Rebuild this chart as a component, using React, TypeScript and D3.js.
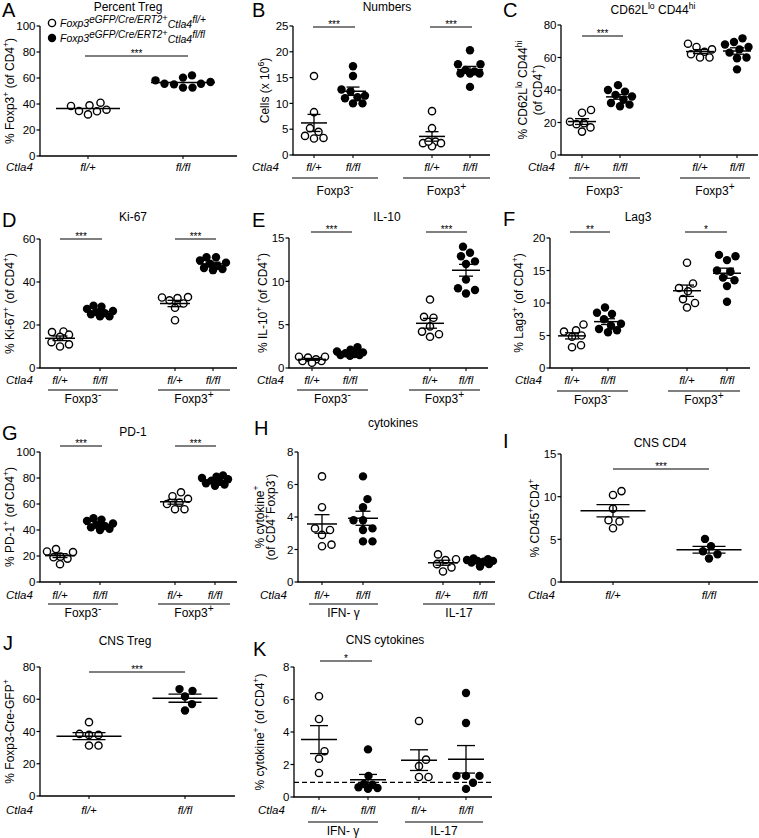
import React from 'react';
import * as d3 from 'd3';

const FONT = '"Liberation Sans", Arial, Helvetica, sans-serif';

// ---- Data ----
const A_flp = [38.5, 34.4, 32, 41, 34.6, 35.6, 39];
const A_flfl = [56.9, 52.6, 60.3, 55.1, 52.6, 62, 55.6, 55.6, 58.2];

const B_neg_flp = [15.3, 8.3, 5.2, 4.5, 3.7, 3.2, 3.3];
const B_neg_flfl = [17.2, 15.3, 12.7, 12.3, 11.5, 11.2, 10, 10, 11];
const B_pos_flp = [8.5, 5.2, 2.6, 2.3, 1.7, 2.3, 2.6];
const B_pos_flfl = [20.3, 17.6, 17.6, 16.5, 15.8, 15.8, 15.8, 16.2, 13.2];

const C_neg_flp = [26, 27.7, 19, 20.5, 19.5, 17, 14.4];
const C_neg_flfl = [43, 40, 39, 37, 36, 34, 32, 31, 30];
const C_pos_flp = [68.5, 66.5, 65, 63.5, 62, 60, 60];
const C_pos_flfl = [71.8, 69.5, 68, 66.5, 65, 63, 60, 59.5, 52.7];

const D_neg_flp = [17, 16.7, 15.5, 14.5, 12, 10, 11];
const D_neg_flfl = [29, 28.5, 27.5, 26.5, 26, 25.5, 25, 24, 24];
const D_pos_flp = [33, 32.8, 32.5, 31.5, 30, 28, 22.2];
const D_pos_flfl = [51.5, 51.5, 50, 49, 48.5, 47.5, 46.5, 46, 45.5];

const E_neg_flp = [0.8, 1.2, 1.3, 1.0, 0.8, 0.6, 1.3];
const E_neg_flfl = [2.4, 2.1, 1.9, 1.8, 1.7, 1.6, 1.5, 1.5, 1.4];
const E_pos_flp = [7.9, 5.9, 5.8, 4.8, 4.2, 3.6, 3.9];
const E_pos_flfl = [14, 13.3, 12.9, 12.3, 12, 10.2, 9.2, 9, 8.6];

const F_neg_flp = [6.7, 5.8, 5.6, 5.0, 4.8, 3.2, 3.5];
const F_neg_flfl = [9.3, 8.5, 8.3, 7.5, 6.8, 6.5, 6.0, 5.5, 5.8];
const F_pos_flp = [16.2, 13, 12.3, 11.8, 10.6, 10.0, 9.3];
const F_pos_flfl = [17.2, 17.4, 16.6, 15.0, 14.8, 13.9, 13.5, 12.6, 10.2];

const G_neg_flp = [25.3, 23.5, 23, 19.5, 19, 18, 13.7];
const G_neg_flfl = [49, 48, 47, 45, 44, 43, 42, 41, 40];
const G_pos_flp = [69, 66, 64, 61, 60, 56, 56];
const G_pos_flfl = [82, 81, 80, 79, 78, 77, 76, 75, 74];

const H_ifn_flp = [6.5, 4.6, 3.3, 3.2, 2.9, 2.2, 2.3];
const H_ifn_flfl = [6.5, 5.1, 4.6, 3.8, 3.8, 3.3, 3.2, 2.5, 2.5];
const H_il17_flp = [1.7, 1.4, 1.35, 1.1, 0.9, 0.65];
const H_il17_flfl = [1.45, 1.4, 1.35, 1.3, 1.3, 1.25, 1.2, 1.1, 0.95];

const I_flp = [10.2, 10.65, 8.6, 7.25, 7.1, 6.3];
const I_flfl = [5.05, 4.2, 3.6, 3.25, 2.75];

const J_flp = [45.8, 37.9, 37.9, 38.5, 31.3, 31.3];
const J_flfl = [65.2, 66.3, 61.7, 57, 53];

const K_ifn_flp = [6.2, 4.8, 2.82, 2.36, 1.48];
const K_ifn_flfl = [2.93, 1.3, 0.8, 0.75, 0.55, 0.5, 0.6];
const K_il17_flp = [4.68, 2.3, 1.9, 1.23, 1.23];
const K_il17_flfl = [6.4, 4.55, 1.3, 1.3, 1.3, 0.88, 0.5];
const K_threshold = 0.9;

const genotypes = ['fl/+', 'fl/fl'];
const groupFoxp3 = ['Foxp3^{-}', 'Foxp3^{+}'];
const groupCyto = ['IFN- γ', 'IL-17'];

// ---- helpers ----
function rich(s: string, fs: number, supScale = 0.72, raise = 0.4) {
  const parts = s.split(/(\^\{[^}]*\})/).filter((x) => x.length > 0);
  let cur = 0;
  return parts.map((pt, i) => {
    const isSup = pt.startsWith('^{');
    const txt = isSup ? pt.slice(2, -1) : pt;
    const target = isSup ? -fs * raise : 0;
    const dy = target - cur;
    cur = target;
    return (
      <tspan key={i} dy={dy} fontSize={isSup ? fs * supScale : fs}>
        {txt}
      </tspan>
    );
  });
}

function swarm(ys: number[], cx: number, minD: number, maxOff: number) {
  const idx = ys.map((y, i) => i).sort((a, b) => ys[b] - ys[a]);
  const placed: { x: number; y: number }[] = [];
  const out: number[] = new Array(ys.length).fill(cx);
  const cands: number[] = [0];
  for (let o = 0.5; o <= maxOff + 1e-9; o += 0.5) cands.push(o, -o);
  idx.forEach((i) => {
    const y = ys[i];
    let best = 0, bestD = -1;
    for (const c of cands) {
      let md = Infinity;
      for (const p of placed) {
        const d = Math.hypot(p.x - c, p.y - y);
        if (d < md) md = d;
      }
      if (md >= minD) { best = c; bestD = md; break; }
      if (md > bestD + 0.01) { bestD = md; best = c; }
    }
    placed.push({ x: best, y });
    out[i] = cx + best;
  });
  return out;
}

type Cat = { x: number; v: number[]; f: boolean; l: string };
type Grp = { x1: number; x2: number; l: string };
type Sig = { x1: number; x2: number; y: number; t: string };
type P = {
  letter: string; lx: number; ly: number;
  title: string; tx: number; ty: number;
  axisX: number; xEnd: number; y0: number; yTop: number; yMax: number; step: number;
  ylab: string[]; ylabX: number[];
  ctlaX: number; catY: number;
  cats: Cat[]; groups: Grp[]; gY?: number; gLY?: number;
  sig: Sig[]; meanW: number; semW: number; maxOff: number; sem: boolean;
  dashed?: number;
};

const mk4 = (xs: number[], vals: number[][]): Cat[] =>
  xs.map((x, i) => ({ x, v: vals[i], f: i % 2 === 1, l: genotypes[i % 2] }));
const mkG = (r: number[][], labels: string[]): Grp[] =>
  r.map((a, i) => ({ x1: a[0], x2: a[1], l: labels[i] }));

const panels: P[] = [
  {
    letter: 'A', lx: 2, ly: 17, title: 'Percent Treg', tx: 128, ty: 11,
    axisX: 40, xEnd: 237, y0: 156, yTop: 26, yMax: 100, step: 20,
    ylab: ['% Foxp3^{+} (of CD4^{+})'], ylabX: [10], ctlaX: 6, catY: 171,
    cats: mk4([88, 183], [A_flp, A_flfl]), groups: [],
    sig: [{ x1: 85, x2: 188, y: 56, t: '***' }], meanW: 64, semW: 0, maxOff: 32, sem: false,
  },
  {
    letter: 'B', lx: 252, ly: 17, title: 'Numbers', tx: 387, ty: 11,
    axisX: 293, xEnd: 490, y0: 155, yTop: 26, yMax: 25, step: 5,
    ylab: ['Cells (x 10^{6})'], ylabX: [265], ctlaX: 252, catY: 171,
    cats: mk4([314, 353, 432, 470], [B_neg_flp, B_neg_flfl, B_pos_flp, B_pos_flfl]),
    groups: mkG([[292, 378], [403, 490]], groupFoxp3), gY: 178, gLY: 195,
    sig: [{ x1: 313, x2: 355, y: 27, t: '***' }, { x1: 430, x2: 472, y: 27, t: '***' }],
    meanW: 26, semW: 13, maxOff: 12, sem: true,
  },
  {
    letter: 'C', lx: 503, ly: 17, title: 'CD62L^{lo} CD44^{hi}', tx: 653, ty: 14,
    axisX: 561, xEnd: 758, y0: 155, yTop: 25, yMax: 80, step: 20,
    ylab: ['% CD62L^{lo} CD44^{hi}', '(of CD4^{+})'], ylabX: [523, 538], ctlaX: 528, catY: 171,
    cats: mk4([582, 620, 700, 737], [C_neg_flp, C_neg_flfl, C_pos_flp, C_pos_flfl]),
    groups: mkG([[569, 640], [680, 750]], groupFoxp3), gY: 178, gLY: 195,
    sig: [{ x1: 582, x2: 623, y: 36, t: '***' }], meanW: 28, semW: 14, maxOff: 12, sem: true,
  },
  {
    letter: 'D', lx: 2, ly: 227, title: 'Ki-67', tx: 133, ty: 221,
    axisX: 40, xEnd: 237, y0: 368, yTop: 239, yMax: 60, step: 20,
    ylab: ['% Ki-67^{+} (of CD4^{+})'], ylabX: [10], ctlaX: 6, catY: 384,
    cats: mk4([60, 100, 175, 213], [D_neg_flp, D_neg_flfl, D_pos_flp, D_pos_flfl]),
    groups: mkG([[48, 118], [158, 230]], groupFoxp3), gY: 390, gLY: 403,
    sig: [{ x1: 60, x2: 102, y: 239, t: '***' }, { x1: 175, x2: 216, y: 239, t: '***' }],
    meanW: 30, semW: 15, maxOff: 13, sem: true,
  },
  {
    letter: 'E', lx: 252, ly: 227, title: 'IL-10', tx: 387, ty: 221,
    axisX: 289, xEnd: 488, y0: 368, yTop: 238, yMax: 15, step: 5,
    ylab: ['% IL-10^{+} (of CD4^{+})'], ylabX: [263], ctlaX: 257, catY: 384,
    cats: mk4([312, 350, 430, 466], [E_neg_flp, E_neg_flfl, E_pos_flp, E_pos_flfl]),
    groups: mkG([[297, 368], [409, 480]], groupFoxp3), gY: 390, gLY: 403,
    sig: [{ x1: 311, x2: 352, y: 232, t: '***' }, { x1: 426, x2: 467, y: 232, t: '***' }],
    meanW: 28, semW: 14, maxOff: 13, sem: true,
  },
  {
    letter: 'F', lx: 503, ly: 226, title: 'Lag3', tx: 638, ty: 221,
    axisX: 550, xEnd: 750, y0: 368, yTop: 238, yMax: 20, step: 5,
    ylab: ['% Lag3^{+} (of CD4^{+})'], ylabX: [519], ctlaX: 515, catY: 384,
    cats: mk4([572, 608, 687, 727], [F_neg_flp, F_neg_flfl, F_pos_flp, F_pos_flfl]),
    groups: mkG([[557, 628], [668, 740]], groupFoxp3), gY: 391, gLY: 404,
    sig: [{ x1: 570, x2: 610, y: 232, t: '**' }, { x1: 685, x2: 727, y: 232, t: '*' }],
    meanW: 28, semW: 14, maxOff: 13, sem: true,
  },
  {
    letter: 'G', lx: 2, ly: 440, title: 'PD-1', tx: 133, ty: 436,
    axisX: 40, xEnd: 237, y0: 582, yTop: 452, yMax: 100, step: 20,
    ylab: ['% PD-1^{+} (of CD4^{+})'], ylabX: [10], ctlaX: 6, catY: 599,
    cats: mk4([60, 100, 175, 215], [G_neg_flp, G_neg_flfl, G_pos_flp, G_pos_flfl]),
    groups: mkG([[48, 118], [158, 230]], groupFoxp3), gY: 604, gLY: 617,
    sig: [{ x1: 60, x2: 102, y: 446, t: '***' }, { x1: 175, x2: 216, y: 446, t: '***' }],
    meanW: 30, semW: 15, maxOff: 13, sem: true,
  },
  {
    letter: 'H', lx: 254, ly: 435, title: 'cytokines', tx: 393, ty: 427,
    axisX: 298, xEnd: 495, y0: 582, yTop: 452, yMax: 8, step: 2,
    ylab: ['% cytokine^{+}', '(of CD4^{+}Foxp3^{-})'], ylabX: [260, 271], ctlaX: 260, catY: 599,
    cats: mk4([322, 363, 443, 480], [H_ifn_flp, H_ifn_flfl, H_il17_flp, H_il17_flfl]),
    groups: mkG([[309, 378], [423, 495]], groupCyto), gY: 604, gLY: 617,
    sig: [], meanW: 30, semW: 15, maxOff: 13, sem: true,
  },
  {
    letter: 'I', lx: 503, ly: 448, title: 'CNS CD4', tx: 660, ty: 447,
    axisX: 561, xEnd: 758, y0: 582, yTop: 454, yMax: 15, step: 5,
    ylab: ['% CD45^{+}CD4^{+}'], ylabX: [535], ctlaX: 528, catY: 599,
    cats: mk4([613, 709], [I_flp, I_flfl]), groups: [],
    sig: [{ x1: 613, x2: 709, y: 469, t: '***' }], meanW: 65, semW: 33, maxOff: 12, sem: true,
  },
  {
    letter: 'J', lx: 3, ly: 650, title: 'CNS Treg', tx: 125, ty: 645,
    axisX: 40, xEnd: 235, y0: 796, yTop: 667, yMax: 80, step: 20,
    ylab: ['% Foxp3-Cre-GFP^{+}'], ylabX: [10], ctlaX: 6, catY: 814,
    cats: mk4([89, 185], [J_flp, J_flfl]), groups: [],
    sig: [{ x1: 89, x2: 185, y: 672, t: '***' }], meanW: 65, semW: 33, maxOff: 12, sem: true,
  },
  {
    letter: 'K', lx: 253, ly: 656, title: 'CNS cytokines', tx: 385, ty: 644,
    axisX: 294, xEnd: 492, y0: 797, yTop: 667, yMax: 8, step: 2,
    ylab: ['% cytokine^{+} (of CD4^{+})'], ylabX: [260], ctlaX: 258, catY: 814,
    cats: mk4([319, 368, 419, 466], [K_ifn_flp, K_ifn_flfl, K_il17_flp, K_il17_flfl]),
    groups: mkG([[308, 378], [405, 483]], groupCyto), gY: 822, gLY: 835,
    sig: [{ x1: 320, x2: 372, y: 661, t: '*' }], meanW: 36, semW: 18, maxOff: 14, sem: true,
    dashed: K_threshold,
  },
];

const R = 4.2;

function Panel({ p }: { p: P }) {
  const y = d3.scaleLinear().domain([0, p.yMax]).range([p.y0, p.yTop]);
  const ticks = d3.range(0, p.yMax + 1e-9, p.step);
  const fmt = d3.format('d');
  const ymid = (p.y0 + p.yTop) / 2;
  return (
    <g>
      <text x={p.lx} y={p.ly} fontSize={20}>{p.letter}</text>
      <text x={p.tx} y={p.ty} fontSize={12} textAnchor="middle">{rich(p.title, 12)}</text>
      {/* y axis */}
      <line x1={p.axisX} x2={p.axisX} y1={p.y0} y2={p.yTop} stroke="#000" strokeWidth={1.3} />
      {ticks.map((t) => (
        <g key={t}>
          <line x1={p.axisX - 3.5} x2={p.axisX} y1={y(t)} y2={y(t)} stroke="#000" strokeWidth={1.2} />
          <text x={p.axisX - 4.5} y={y(t) + 4.2} fontSize={11.5} textAnchor="end">{fmt(t)}</text>
        </g>
      ))}
      {/* x axis */}
      <line x1={p.axisX - 0.6} x2={p.xEnd} y1={p.y0} y2={p.y0} stroke="#000" strokeWidth={1.3} />
      {p.cats.map((c, i) => (
        <line key={i} x1={c.x} x2={c.x} y1={p.y0} y2={p.y0 + 3} stroke="#000" strokeWidth={1.1} />
      ))}
      {/* y label */}
      {p.ylab.map((s, i) => (
        <text key={i} transform={`translate(${p.ylabX[i] + 4},${ymid}) rotate(-90)`} fontSize={12}
          textAnchor="middle" style={{ whiteSpace: 'pre' }}>
          {rich(s, 12)}
        </text>
      ))}
      {/* category labels */}
      <text x={p.ctlaX} y={p.catY} fontSize={11.5} fontStyle="italic">Ctla4</text>
      {p.cats.map((c, i) => (
        <text key={i} x={c.x} y={p.catY} fontSize={11.5} fontStyle="italic" textAnchor="middle">{c.l}</text>
      ))}
      {p.groups.map((g, i) => (
        <g key={i}>
          <line x1={g.x1} x2={g.x2} y1={p.gY} y2={p.gY} stroke="#000" strokeWidth={1.2} />
          <text x={(g.x1 + g.x2) / 2} y={p.gLY} fontSize={12} textAnchor="middle" style={{ whiteSpace: 'pre' }}>
            {rich(g.l, 12, 0.85, 0.45)}
          </text>
        </g>
      ))}
      {/* dashed threshold */}
      {p.dashed !== undefined && (
        <line x1={p.axisX} x2={p.xEnd} y1={y(p.dashed)} y2={y(p.dashed)} stroke="#000"
          strokeWidth={1.4} strokeDasharray="5,3" />
      )}
      {/* significance */}
      {p.sig.map((s, i) => (
        <g key={i}>
          <line x1={s.x1} x2={s.x2} y1={s.y} y2={s.y} stroke="#000" strokeWidth={1.2} />
          <text x={(s.x1 + s.x2) / 2} y={s.y + 1} fontSize={10} textAnchor="middle">{s.t}</text>
        </g>
      ))}
      {/* points */}
      {p.cats.map((c, i) => {
        const ys = c.v.map((v) => y(v));
        const xs = swarm(ys, c.x, 2 * R + 0.8, p.maxOff);
        const m = d3.mean(c.v) as number;
        const sd = d3.deviation(c.v) as number;
        const se = sd / Math.sqrt(c.v.length);
        return (
          <g key={i}>
            {c.v.map((v, j) => (
              <circle key={j} cx={xs[j]} cy={ys[j]} r={c.f ? R : R - 0.6}
                fill={c.f ? '#000' : '#fff'} stroke="#000" strokeWidth={c.f ? 0 : 1.4} />
            ))}
            <line x1={c.x - p.meanW / 2} x2={c.x + p.meanW / 2} y1={y(m)} y2={y(m)} stroke="#000" strokeWidth={1.5} />
            {p.sem && (
              <g stroke="#000" strokeWidth={1.3}>
                <line x1={c.x} x2={c.x} y1={y(m - se)} y2={y(m + se)} />
                <line x1={c.x - p.semW / 2} x2={c.x + p.semW / 2} y1={y(m + se)} y2={y(m + se)} />
                <line x1={c.x - p.semW / 2} x2={c.x + p.semW / 2} y1={y(m - se)} y2={y(m - se)} />
              </g>
            )}
          </g>
        );
      })}
    </g>
  );
}

function Legend() {
  return (
    <g>
      <circle cx={52} cy={23} r={3.6} fill="#fff" stroke="#000" strokeWidth={1.4} />
      <circle cx={52} cy={38} r={4.2} fill="#000" />
      {[{ y: 27, g: 'fl/+' }, { y: 42, g: 'fl/fl' }].map((l, i) => (
        <text key={i} x={60} y={l.y} fontSize={10.5} fontStyle="italic">
          <tspan>Foxp3</tspan>
          <tspan dy={-4} fontSize={10}>eGFP/Cre/ERT2</tspan>
          <tspan dy={-2.5} fontSize={9}>+</tspan>
          <tspan dy={7.5} fontSize={10.5}>Ctla4</tspan>
          <tspan dy={-5} fontSize={10}>{l.g}</tspan>
        </text>
      ))}
    </g>
  );
}

export default function App() {
  return (
    <svg width={759} height={838} style={{ position: 'absolute', left: 0, top: 0, background: '#fff' }}
      fontFamily={FONT}>
      <rect width={759} height={838} fill="#fff" />
      {panels.map((p) => <Panel key={p.letter} p={p} />)}
      <Legend />
    </svg>
  );
}
